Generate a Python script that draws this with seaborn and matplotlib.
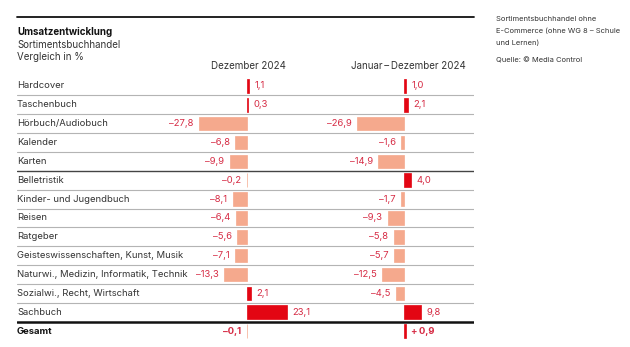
import matplotlib
matplotlib.use("Agg")
import matplotlib.pyplot as plt
from matplotlib.lines import Line2D
import pandas as pd
import seaborn as sns

categories = [
    "Hardcover", "Taschenbuch", "Hörbuch/Audiobuch", "Kalender", "Karten",
    "Belletristik", "Kinder- und Jugendbuch", "Reisen", "Ratgeber",
    "Geisteswissenschaften, Kunst, Musik",
    "Naturwi., Medizin, Informatik, Technik",
    "Sozialwi., Recht, Wirtschaft", "Sachbuch", "Gesamt",
]
dezember = [1.1, 0.3, -27.8, -6.8, -9.9, -0.2, -8.1, -6.4, -5.6, -7.1, -13.3, 2.1, 23.1, -0.1]
jahr = [1.0, 2.1, -26.9, -1.6, -14.9, 4.0, -1.7, -9.3, -5.8, -5.7, -12.5, -4.5, 9.8, 0.9]
headers = ["Dezember 2024", "Januar\u2009–\u2009Dezember 2024"]

RED = "#e30613"
SALMON = "#f5a98d"
LABEL_RED = "#d62b44"
TEXT = "#333333"

sns.set_theme(style="white")
plt.rcParams["font.family"] = ["Inter", "DejaVu Sans"]

W, H = 630, 347
fig = plt.figure(figsize=(W / 100, H / 100), dpi=100)


def fx(px):
    return px / W


def fy(py):
    return 1 - py / H


# row geometry (pixels from the top)
row0, row_step = 86.0, 18.85
n = len(categories)
top_px = row0 - row_step / 2
bot_px = row0 + row_step * (n - 1) + row_step / 2
ax_bottom = fy(bot_px)
ax_height = (bot_px - top_px) / H

px_per_unit = 1.73


def panel(x0, x1, zero):
    rect = [fx(x0), ax_bottom, fx(x1) - fx(x0), ax_height]
    a = fig.add_axes(rect)
    a.set_xlim((x0 - zero) / px_per_unit, (x1 - zero) / px_per_unit)
    return a


# background axes carrying the row separators
bg = fig.add_axes([fx(17), ax_bottom, fx(474) - fx(17), ax_height])
bg.set_xlim(0, 1)
bg.set_ylim(n - 0.5, -0.5)
bg.axis("off")
for i in range(n - 1):
    if i == 4:
        bg.axhline(i + 0.5, color="#444444", lw=1.0)
    elif i == n - 2:
        bg.axhline(i + 0.5, color="#111111", lw=1.8)
    else:
        bg.axhline(i + 0.5, color="#b4b4b4", lw=0.8)

df = pd.DataFrame({
    "cat": categories,
    "dez": dezember,
    "jahr": jahr,
})

panels = [
    (panel(150, 330, 247), "dez"),
    (panel(330, 474, 404), "jahr"),
]

for a, col in panels:
    df["sign"] = ["pos" if v > 0 else "neg" for v in df[col]]
    sns.barplot(data=df, x=col, y="cat", hue="sign", order=categories,
                palette={"pos": RED, "neg": SALMON}, dodge=False,
                saturation=1, orient="h", width=0.72, legend=False, ax=a)
    for p in a.patches:
        p.set_edgecolor(p.get_facecolor())
        p.set_linewidth(0.5)
    a.set_ylim(n - 0.5, -0.5)
    a.axis("off")
    for i, v in enumerate(df[col]):
        total = i == n - 1
        s = f"{abs(v):.1f}".replace(".", ",")
        if v < 0:
            s = "–" + s
        elif total:
            s = "+\u2009" + s
        a.annotate(s, (v, i), xytext=(4 if v > 0 else -4, 0),
                   textcoords="offset points",
                   ha="left" if v > 0 else "right", va="center",
                   fontsize=6.8, color=LABEL_RED,
                   fontweight="bold" if total else "normal")

# category labels
for i, c in enumerate(categories):
    fig.text(fx(17), fy(row0 + i * row_step), c, ha="left", va="center",
             fontsize=6.8, color="#111111" if i == n - 1 else TEXT,
             fontweight="bold" if i == n - 1 else "normal")

# top rule
fig.add_artist(Line2D([fx(17), fx(474)], [fy(17), fy(17)], color="#111111", lw=1.3))

# title block
fig.text(fx(17), fy(32), "Umsatzentwicklung", fontsize=7, fontweight="bold",
         color="#111111", va="center")
fig.text(fx(17), fy(44.5), "Sortimentsbuchhandel", fontsize=7, color=TEXT, va="center")
fig.text(fx(17), fy(57), "Vergleich in %", fontsize=7, color=TEXT, va="center")

fig.text(fx(248), fy(66), headers[0], fontsize=7, color=TEXT, ha="center", va="center")
fig.text(fx(408), fy(66), headers[1], fontsize=7, color=TEXT, ha="center", va="center")

# notes
for y, t in [(19, "Sortimentsbuchhandel ohne"),
             (31, "E-Commerce (ohne WG 8 – Schule"),
             (43, "und Lernen)"),
             (60, "Quelle: © Media Control")]:
    fig.text(fx(496), fy(y), t, fontsize=5.4, color=TEXT, ha="left", va="center")

fig.savefig("out.png", dpi=100)
